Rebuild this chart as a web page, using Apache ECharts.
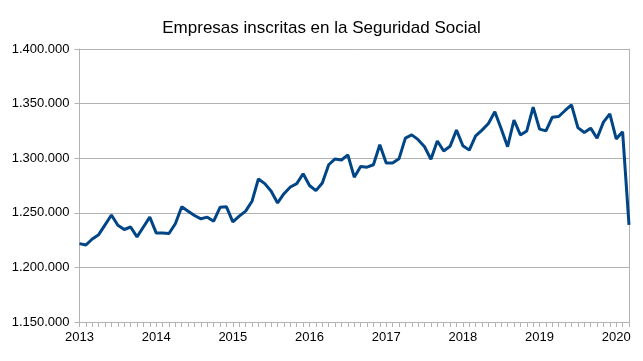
<!DOCTYPE html>
<html>
<head>
<meta charset="utf-8">
<script src="https://cdn.jsdelivr.net/npm/echarts@6/dist/echarts.min.js"></script>
<style>
html,body{margin:0;padding:0;background:#fff;}
#chart{width:643px;height:361px;}
</style>
</head>
<body>
<div id="chart"></div>
<script>
const title = "Empresas inscritas en la Seguridad Social";
const years = [2013, 2014, 2015, 2016, 2017, 2018, 2019, 2020];
const values2013 = [1221800, 1220500, 1226000, 1230000, 1239000, 1248000, 1238600, 1234700, 1237000, 1228000, 1237000, 1246000];
const values2014 = [1231600, 1231500, 1231000, 1240000, 1255500, 1251500, 1247500, 1244500, 1246000, 1242300, 1255000, 1255500];
const values2015 = [1241700, 1246900, 1251500, 1260600, 1281000, 1276700, 1269700, 1259000, 1267500, 1273600, 1276700, 1285800];
const values2016 = [1275000, 1270300, 1277300, 1294000, 1299300, 1298400, 1303000, 1282600, 1292400, 1291800, 1294000, 1312300];
const values2017 = [1295600, 1295600, 1299400, 1318400, 1321400, 1317000, 1310500, 1299000, 1315800, 1306600, 1311000, 1325700];
const values2018 = [1311400, 1307400, 1320500, 1325700, 1331800, 1342500, 1327000, 1310500, 1335000, 1321300, 1325000, 1346700];
const values2019 = [1326600, 1325000, 1337600, 1338200, 1343700, 1348900, 1328000, 1323500, 1327500, 1318300, 1333000, 1340600];
const values2020 = [1317700, 1324200, 1239000];
const yTicks = [1150000, 1200000, 1250000, 1300000, 1350000, 1400000];

const valuesByYear = [values2013, values2014, values2015, values2016, values2017, values2018, values2019, values2020];
const categories = [];
const values = [];
valuesByYear.forEach((arr, yi) => {
  arr.forEach((v, mi) => {
    categories.push(years[yi] + '-' + String(mi + 1).padStart(2, '0'));
    values.push(v);
  });
});

function fmt(v) {
  return String(Math.round(v)).replace(/\B(?=(\d{3})+(?!\d))/g, '.');
}

const chart = echarts.init(document.getElementById('chart'));
const gray = '#b3b3b3';
const font = 'Liberation Sans, Arial, sans-serif';
chart.setOption({
  animation: false,
  backgroundColor: '#ffffff',
  title: {
    text: title,
    left: 'center',
    top: 15,
    textStyle: { fontFamily: font, fontSize: 17, fontWeight: 'normal', color: '#000' }
  },
  grid: { left: 79.5, right: 14, top: 49, bottom: 39, containLabel: false },
  xAxis: {
    type: 'category',
    data: categories,
    boundaryGap: false,
    axisLine: { show: true, lineStyle: { color: gray, width: 1 } },
    axisTick: { show: true, interval: 0, length: 5, lineStyle: { color: gray } },
    axisLabel: {
      interval: (i, v) => v.endsWith('-01'),
      formatter: v => v.slice(0, 4),
      color: '#000', fontFamily: font, fontSize: 13, margin: 9,
      hideOverlap: false
    },
    splitLine: { show: false }
  },
  yAxis: [{
    type: 'value',
    min: yTicks[0],
    max: yTicks[yTicks.length - 1],
    interval: 50000,
    axisLine: { show: true, lineStyle: { color: gray, width: 1 } },
    axisTick: { show: true, length: 5, lineStyle: { color: gray } },
    axisLabel: { formatter: fmt, color: '#000', fontFamily: font, fontSize: 13, margin: 10 },
    splitLine: { show: true, lineStyle: { color: gray, width: 1 } }
  }, {
    type: 'value',
    position: 'right',
    min: yTicks[0],
    max: yTicks[yTicks.length - 1],
    interval: 50000,
    axisLine: { show: true, lineStyle: { color: gray, width: 1 } },
    axisTick: { show: false },
    axisLabel: { show: false },
    splitLine: { show: false }
  }],
  series: [{
    type: 'line',
    data: values,
    yAxisIndex: 0,
    symbol: 'none',
    lineStyle: { color: '#004586', width: 3 },
    itemStyle: { color: '#004586' }
  }]
});
</script>
</body>
</html>
